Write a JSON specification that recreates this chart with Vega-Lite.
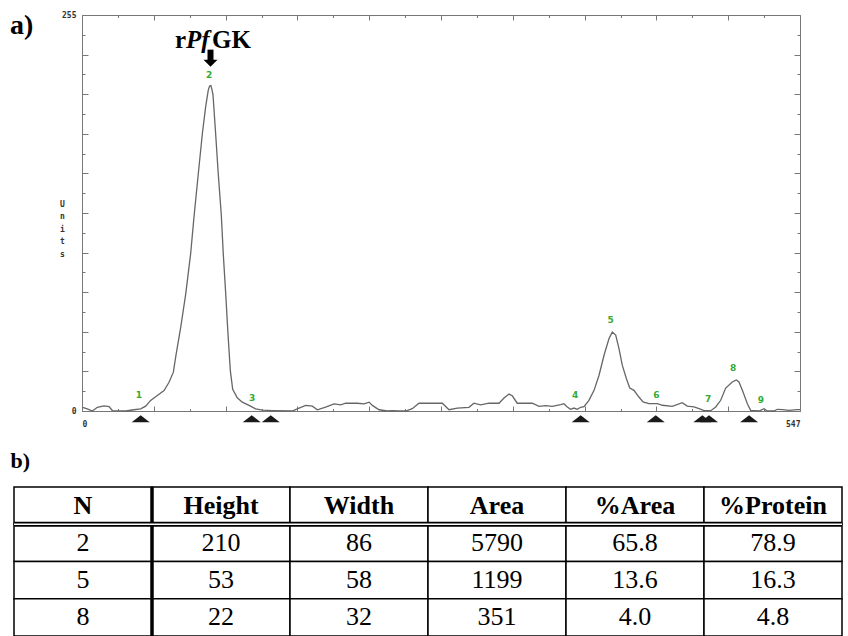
{
  "$schema": "https://vega.github.io/schema/vega-lite/v6.json",
  "background": "white",
  "padding": {"left": 10, "top": 11, "right": 0, "bottom": 0},
  "config": {"view": {"stroke": null}},
  "columns": 1,
  "spacing": 19,
  "datasets": {
    "trace": [
      {"pos": 0.5, "units": 2.4}, {"pos": 4, "units": 1.4}, {"pos": 7.9, "units": 0}, {"pos": 11.7, "units": 2.4},
      {"pos": 16.8, "units": 3.3}, {"pos": 20.6, "units": 2.9}, {"pos": 23.1, "units": 0.3}, {"pos": 33.3, "units": 0},
      {"pos": 39.6, "units": 0.8}, {"pos": 44.7, "units": 1.4}, {"pos": 48.5, "units": 3.1}, {"pos": 52.3, "units": 6.8},
      {"pos": 57.4, "units": 10}, {"pos": 62.5, "units": 13.2}, {"pos": 66.3, "units": 18.5}, {"pos": 69.6, "units": 25},
      {"pos": 71.6, "units": 36}, {"pos": 75.2, "units": 53.8}, {"pos": 79.0, "units": 75.3}, {"pos": 82.8, "units": 101.5},
      {"pos": 85.3, "units": 124.8}, {"pos": 88.6, "units": 152.8}, {"pos": 91.7, "units": 178.7}, {"pos": 94.2, "units": 195.8},
      {"pos": 96.2, "units": 206.6}, {"pos": 97.2, "units": 209.2}, {"pos": 98.2, "units": 209.5}, {"pos": 99.0, "units": 207},
      {"pos": 99.8, "units": 203.6}, {"pos": 101.8, "units": 178.7}, {"pos": 103.8, "units": 152.8}, {"pos": 106.1, "units": 126.5},
      {"pos": 107.6, "units": 101.5}, {"pos": 109.5, "units": 75.3}, {"pos": 111.2, "units": 49.9}, {"pos": 113.0, "units": 26},
      {"pos": 114.8, "units": 14}, {"pos": 118.3, "units": 8.5}, {"pos": 122.1, "units": 5.7}, {"pos": 127.2, "units": 3.6},
      {"pos": 132.3, "units": 1.4}, {"pos": 137.4, "units": 0.5}, {"pos": 145, "units": 0.3}, {"pos": 160.2, "units": 0},
      {"pos": 164, "units": 1.4}, {"pos": 170.4, "units": 3.6}, {"pos": 175.5, "units": 3.1}, {"pos": 179.3, "units": 0.8},
      {"pos": 185.6, "units": 2.5}, {"pos": 192, "units": 4.6}, {"pos": 197.1, "units": 4.0}, {"pos": 200.9, "units": 5.0},
      {"pos": 209.8, "units": 5.0}, {"pos": 214.9, "units": 4.6}, {"pos": 218.7, "units": 5.7}, {"pos": 221.2, "units": 3.6},
      {"pos": 226.3, "units": 0.8}, {"pos": 232.6, "units": 0}, {"pos": 236.4, "units": 0.3}, {"pos": 241.5, "units": 0},
      {"pos": 246.6, "units": 0}, {"pos": 251.6, "units": 1.5}, {"pos": 256.7, "units": 5.0}, {"pos": 274.5, "units": 5.0},
      {"pos": 279.6, "units": 0.8}, {"pos": 285.9, "units": 1.8}, {"pos": 294.8, "units": 2.4}, {"pos": 298.6, "units": 5.0},
      {"pos": 303.7, "units": 4.0}, {"pos": 310.1, "units": 5.0}, {"pos": 317.7, "units": 5.0}, {"pos": 321.5, "units": 8.4},
      {"pos": 325.3, "units": 10.9}, {"pos": 327.8, "units": 9.8}, {"pos": 331.6, "units": 5.0}, {"pos": 343.1, "units": 5.0},
      {"pos": 348.2, "units": 3.0}, {"pos": 353.3, "units": 3.5}, {"pos": 358.3, "units": 3.0}, {"pos": 364.7, "units": 4.1},
      {"pos": 367.2, "units": 4.7}, {"pos": 369.7, "units": 2.6}, {"pos": 372.3, "units": 1.1}, {"pos": 374.8, "units": 1.9},
      {"pos": 377.3, "units": 1.1}, {"pos": 379.9, "units": 2.4}, {"pos": 382.4, "units": 2.8}, {"pos": 386.2, "units": 6.9},
      {"pos": 390.1, "units": 13.3}, {"pos": 393.9, "units": 23.0}, {"pos": 397.7, "units": 35.9}, {"pos": 401.5, "units": 46.7},
      {"pos": 404.0, "units": 50.8}, {"pos": 406.6, "units": 48.9}, {"pos": 409.1, "units": 40.2}, {"pos": 411.6, "units": 29.5},
      {"pos": 414.7, "units": 20.9}, {"pos": 417.3, "units": 14.8}, {"pos": 420.5, "units": 13.3}, {"pos": 424.3, "units": 9.0},
      {"pos": 427.4, "units": 5.8}, {"pos": 431.9, "units": 4.7}, {"pos": 438.3, "units": 4.7}, {"pos": 442.1, "units": 3.7},
      {"pos": 449.7, "units": 3.0}, {"pos": 457.3, "units": 5.4}, {"pos": 461.1, "units": 3.2}, {"pos": 466.2, "units": 2.6},
      {"pos": 470.1, "units": 1.5}, {"pos": 473.9, "units": 0.2}, {"pos": 479.0, "units": 0.2}, {"pos": 482.8, "units": 2.6},
      {"pos": 486.6, "units": 6.9}, {"pos": 490.4, "units": 14.8}, {"pos": 495.4, "units": 18.7}, {"pos": 498.5, "units": 20},
      {"pos": 500.5, "units": 18.7}, {"pos": 503.1, "units": 13.3}, {"pos": 506.9, "units": 4.7}, {"pos": 509.4, "units": 0.4},
      {"pos": 515.8, "units": 0}, {"pos": 519.6, "units": 1.5}, {"pos": 522.1, "units": 0}, {"pos": 527.2, "units": 0},
      {"pos": 529.7, "units": 1.1}, {"pos": 533.5, "units": 0.9}, {"pos": 538.6, "units": 0.4}, {"pos": 544.9, "units": 0.9},
      {"pos": 547, "units": 0.9}
    ],
    "peaks": [
      {"peak": "1", "pos": 43.4, "units": 10.0},
      {"peak": "2", "pos": 96.8, "units": 216.6},
      {"peak": "3", "pos": 129.7, "units": 8.5},
      {"peak": "4", "pos": 375.6, "units": 10.0},
      {"peak": "5", "pos": 402.8, "units": 58.9},
      {"peak": "6", "pos": 437.5, "units": 10.0},
      {"peak": "7", "pos": 477.1, "units": 7.9},
      {"peak": "8", "pos": 496.0, "units": 27.9},
      {"peak": "9", "pos": 517.1, "units": 7.2}
    ],
    "bounds": [
      {"pos": 44.7}, {"pos": 129.3}, {"pos": 143.8}, {"pos": 379.9},
      {"pos": 437.1}, {"pos": 472.6}, {"pos": 477.7}, {"pos": 508.2}
    ],
    "table": [
      {"N": "2", "Height": "210", "Width": "86", "Area": "5790", "%Area": "65.8", "%Protein": "78.9"},
      {"N": "5", "Height": "53", "Width": "58", "Area": "1199", "%Area": "13.6", "%Protein": "16.3"},
      {"N": "8", "Height": "22", "Width": "32", "Area": "351", "%Area": "4.0", "%Protein": "4.8"}
    ]
  },
  "concat": [
    {
      "width": 718,
      "height": 396,
      "layer": [
        {
          "data": {"name": "trace"},
          "mark": {"type": "line", "color": "#666666", "strokeWidth": 1.3},
          "encoding": {
            "x": {
              "field": "pos", "type": "quantitative",
              "scale": {"domain": [0, 547], "nice": false, "zero": false},
              "axis": {
                "orient": "bottom", "title": null, "grid": false,
                "values": [0,27.35,54.7,82.05,109.4,136.75,164.1,191.45,218.8,246.15,273.5,300.85,328.2,355.55,382.9,410.25,437.6,464.95,492.3,519.65,547],
                "format": "d",
                "labelExpr": "datum.value == 0 || datum.value == 547 ? datum.label : ''",
                "labelFlush": true, "labelOverlap": false,
                "tickSize": {"condition": {"test": "round(datum.value/27.35) % 2 == 0", "value": -5}, "value": -2.5},
                "labelPadding": 14,
                "domainColor": "#777777", "tickColor": "#777777",
                "labelFont": "DejaVu Sans Mono", "labelFontSize": 8, "labelFontWeight": "bold", "labelColor": "#333333"
              }
            },
            "y": {
              "field": "units", "type": "quantitative",
              "scale": {"domain": [0, 255], "nice": false, "zero": false},
              "axis": {
                "orient": "left", "grid": false,
                "values": [0,12.75,25.5,38.25,51,63.75,76.5,89.25,102,114.75,127.5,140.25,153,165.75,178.5,191.25,204,216.75,229.5,242.25,255],
                "format": "d",
                "labelExpr": "datum.value == 0 || datum.value == 255 ? datum.label : ''",
                "labelOverlap": false,
                "tickSize": {"condition": {"test": "round(datum.value/12.75) % 2 == 0", "value": -6}, "value": -3},
                "labelPadding": 12,
                "domainColor": "#777777", "tickColor": "#777777",
                "labelFont": "DejaVu Sans Mono", "labelFontSize": 8, "labelFontWeight": "bold", "labelColor": "#333333",
                "title": ["U", "n", "i", "t", "s"],
                "titleAngle": 0, "titleFont": "DejaVu Sans Mono", "titleFontSize": 8, "titleFontWeight": "bold",
                "titleColor": "#333333", "titleLineHeight": 12.5, "titleX": -20, "titleY": 185,
                "titleAlign": "center", "titleBaseline": "top"
              }
            }
          }
        },
        {
          "data": {"name": "peaks"},
          "mark": {"type": "text", "color": "#33aa33", "font": "DejaVu Sans", "fontSize": 9, "fontWeight": "bold", "baseline": "middle", "align": "center"},
          "encoding": {
            "x": {
              "field": "pos", "type": "quantitative",
              "axis": {
                "orient": "top", "title": null, "grid": false, "labels": false,
                "values": [0,27.35,54.7,82.05,109.4,136.75,164.1,191.45,218.8,246.15,273.5,300.85,328.2,355.55,382.9,410.25,437.6,464.95,492.3,519.65,547],
                "tickSize": {"condition": {"test": "round(datum.value/27.35) % 2 == 0", "value": -5}, "value": -2.5},
                "domainColor": "#777777", "tickColor": "#777777"
              }
            },
            "y": {
              "field": "units", "type": "quantitative",
              "axis": {
                "orient": "right", "title": null, "grid": false, "labels": false,
                "values": [0,12.75,25.5,38.25,51,63.75,76.5,89.25,102,114.75,127.5,140.25,153,165.75,178.5,191.25,204,216.75,229.5,242.25,255],
                "tickSize": {"condition": {"test": "round(datum.value/12.75) % 2 == 0", "value": -6}, "value": -3},
                "domainColor": "#777777", "tickColor": "#777777"
              }
            },
            "text": {"field": "peak"}
          }
        },
        {
          "data": {"name": "bounds"},
          "mark": {"type": "point", "shape": "M-1,0.4L0,-0.4L1,0.4Z", "filled": true, "color": "#1a1a1a", "opacity": 1, "size": 324},
          "encoding": {
            "x": {"field": "pos", "type": "quantitative", "axis": null},
            "y": {"datum": -5, "type": "quantitative", "axis": null}
          }
        },
        {
          "data": {"values": [{"label": "arrow"}]},
          "mark": {"type": "rule", "color": "black", "strokeWidth": 6},
          "encoding": {
            "x": {"datum": 97.9, "type": "quantitative", "axis": null},
            "y": {"datum": 232.7, "type": "quantitative", "axis": null},
            "y2": {"datum": 225.0}
          }
        },
        {
          "data": {"values": [{"label": "arrowhead"}]},
          "mark": {"type": "point", "shape": "M-1,-0.5L1,-0.5L0,0.5Z", "filled": true, "color": "black", "opacity": 1, "size": 196},
          "encoding": {
            "x": {"datum": 97.9, "type": "quantitative", "axis": null},
            "y": {"datum": 224.0, "type": "quantitative", "axis": null}
          }
        },
        {
          "data": {"values": [{"label": "r"}]},
          "mark": {"type": "text", "font": "Liberation Serif", "fontSize": 25, "fontWeight": "bold", "align": "left", "baseline": "alphabetic", "color": "black"},
          "encoding": {
            "x": {"datum": 70.9, "type": "quantitative", "axis": null},
            "y": {"datum": 234.0, "type": "quantitative", "axis": null},
            "text": {"field": "label"}
          }
        },
        {
          "data": {"values": [{"label": "Pf"}]},
          "mark": {"type": "text", "font": "Liberation Serif", "fontSize": 25, "fontWeight": "bold", "fontStyle": "italic", "align": "left", "baseline": "alphabetic", "color": "black"},
          "encoding": {
            "x": {"datum": 79.2, "type": "quantitative", "axis": null},
            "y": {"datum": 234.0, "type": "quantitative", "axis": null},
            "text": {"field": "label"}
          }
        },
        {
          "data": {"values": [{"label": "GK"}]},
          "mark": {"type": "text", "font": "Liberation Serif", "fontSize": 25, "fontWeight": "bold", "align": "left", "baseline": "alphabetic", "color": "black"},
          "encoding": {
            "x": {"datum": 99.0, "type": "quantitative", "axis": null},
            "y": {"datum": 234.0, "type": "quantitative", "axis": null},
            "text": {"field": "label"}
          }
        },
        {
          "data": {"values": [{"label": "a)"}]},
          "mark": {"type": "text", "font": "Liberation Serif", "fontSize": 28, "fontWeight": "bold", "align": "left", "baseline": "middle", "color": "black"},
          "encoding": {
            "x": {"datum": -54.85, "type": "quantitative", "axis": null},
            "y": {"datum": 247.6, "type": "quantitative", "axis": null},
            "text": {"field": "label"}
          }
        }
      ],
      "resolve": {"axis": {"x": "independent", "y": "independent"}}
    },
    {
      "width": 760,
      "height": 149,
      "title": {"text": "b)", "anchor": "start", "font": "Liberation Serif", "fontSize": 22, "fontWeight": "bold", "color": "black", "dx": -1, "offset": 12},
      "data": {"name": "table"},
      "transform": [{"fold": ["N", "Height", "Width", "Area", "%Area", "%Protein"], "as": ["col", "val"]}],
      "layer": [
        {
          "mark": {"type": "rect", "fill": "white", "stroke": "black", "strokeWidth": 1.5},
          "encoding": {
            "x": {"field": "col", "type": "nominal", "sort": ["N", "Height", "Width", "Area", "%Area", "%Protein"], "scale": {"range": [-68, 760], "paddingInner": 0, "paddingOuter": 0}, "axis": null},
            "y": {"field": "N", "type": "nominal", "scale": {"domain": ["hdr", "2", "5", "8"], "paddingInner": 0, "paddingOuter": 0}, "axis": null}
          }
        },
        {
          "transform": [{"filter": "datum.N == '2'"}],
          "mark": {"type": "rect", "fill": "white", "stroke": "black", "strokeWidth": 1.5},
          "encoding": {
            "x": {"field": "col", "type": "nominal", "sort": ["N", "Height", "Width", "Area", "%Area", "%Protein"], "axis": null},
            "y": {"datum": "hdr", "type": "nominal", "axis": null}
          }
        },
        {
          "mark": {"type": "text", "font": "Liberation Serif", "fontSize": 26, "color": "black", "baseline": "middle"},
          "encoding": {
            "x": {"field": "col", "type": "nominal", "sort": ["N", "Height", "Width", "Area", "%Area", "%Protein"], "axis": null},
            "y": {"field": "N", "type": "nominal", "axis": null},
            "text": {"field": "val"}
          }
        },
        {
          "transform": [{"filter": "datum.N == '2'"}],
          "mark": {"type": "text", "font": "Liberation Serif", "fontSize": 26, "fontWeight": "bold", "color": "black", "baseline": "middle"},
          "encoding": {
            "x": {"field": "col", "type": "nominal", "sort": ["N", "Height", "Width", "Area", "%Area", "%Protein"], "axis": null},
            "y": {"datum": "hdr", "type": "nominal", "axis": null},
            "text": {"field": "col"}
          }
        },
        {
          "transform": [{"filter": "datum.N == '2' && datum.col == 'N'"}],
          "mark": {"type": "rule", "color": "black", "strokeWidth": 3.5},
          "encoding": {
            "x": {"datum": "Height", "type": "nominal", "bandPosition": 0, "axis": null}
          }
        },
        {
          "transform": [{"filter": "datum.N == '2' && datum.col == 'N'"}],
          "mark": {"type": "rule", "color": "black", "strokeWidth": 5},
          "encoding": {
            "x": {"datum": "N", "type": "nominal", "bandPosition": 0, "axis": null},
            "x2": {"datum": "%Protein", "bandPosition": 1},
            "y": {"datum": "2", "type": "nominal", "bandPosition": 0, "axis": null}
          }
        },
        {
          "transform": [{"filter": "datum.N == '2' && datum.col == 'N'"}],
          "mark": {"type": "rule", "color": "white", "strokeWidth": 1.6},
          "encoding": {
            "x": {"datum": "N", "type": "nominal", "bandPosition": 0, "axis": null},
            "x2": {"datum": "%Protein", "bandPosition": 1},
            "y": {"datum": "2", "type": "nominal", "bandPosition": 0, "axis": null}
          }
        }
      ]
    }
  ]
}
